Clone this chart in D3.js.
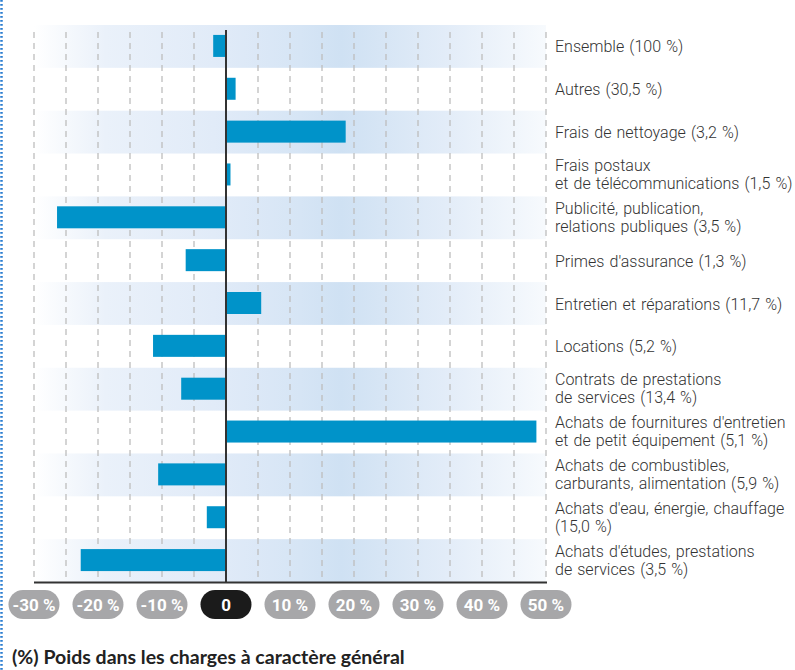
<!DOCTYPE html>
<html>
<head>
<meta charset="utf-8">
<script src="https://cdn.jsdelivr.net/npm/d3@7"></script>
<style>
    body { margin: 0; background: #fff; }
    svg { display: block; }
    .g-label { font-family: Roboto, "Noto Sans", sans-serif; font-weight: 300; font-size: 16px; word-spacing: 1.2px; fill: #333; }
    .g-pill-text { font-family: Roboto, sans-serif; font-weight: 700; font-size: 17px; fill: #fff; }
    .g-title { font-family: Lato, Roboto, sans-serif; font-weight: 700; font-size: 19.5px; fill: #222; }
</style>
</head>
<body>
<div id="chart"></div>
<script>

// rows from top to bottom, label lines as printed
let labels = [
    ["Ensemble (100 %)"],
    ["Autres (30,5 %)"],
    ["Frais de nettoyage (3,2 %)"],
    ["Frais postaux", "et de télécommunications (1,5 %)"],
    ["Publicité, publication,", "relations publiques (3,5 %)"],
    ["Primes d'assurance (1,3 %)"],
    ["Entretien et réparations (11,7 %)"],
    ["Locations (5,2 %)"],
    ["Contrats de prestations", "de services (13,4 %)"],
    ["Achats de fournitures d'entretien", "et de petit équipement (5,1 %)"],
    ["Achats de combustibles,", "carburants, alimentation (5,9 %)"],
    ["Achats d'eau, énergie, chauffage", "(15,0 %)"],
    ["Achats d'études, prestations", "de services (3,5 %)"]
];

// evolution in %
let values = [-2.0, 1.5, 18.7, 0.7, -26.4, -6.3, 5.5, -11.4, -7.0, 48.5, -10.6, -3.0, -22.7];

let ticks = [-30, -20, -10, 0, 10, 20, 30, 40, 50];
let gridTicks = [-30, -25, -20, -15, -10, -5, 5, 10, 15, 20, 25, 30, 35, 40, 45, 50];

let title = "(%) Poids dans les charges à caractère général";

let width = 795, height = 670;

let svg = d3.select("#chart").append("svg")
    .attr("width", width)
    .attr("height", height);

let x = d3.scaleLinear().domain([-30, 50]).range([34, 546]);
let y = d3.scaleBand().domain(d3.range(labels.length)).range([25, 582]);
let bw = y.bandwidth();
let barH = 22;

// band gradient
let defs = svg.append("defs");
let grad = defs.append("linearGradient")
    .attr("id", "g-band")
    .attr("gradientUnits", "userSpaceOnUse")
    .attr("x1", x(-30)).attr("x2", x(50)).attr("y1", 0).attr("y2", 0);
[
    [0, "#ffffff"],
    [0.14, "#eaf1fa"],
    [0.35, "#e1ebf8"],
    [0.52, "#d6e5f5"],
    [0.6, "#cfe1f3"],
    [0.8, "#e2ecf8"],
    [1, "#f7fafd"]
].forEach(function(s){
    grad.append("stop").attr("offset", s[0]).attr("stop-color", s[1]);
});

// left dotted border
svg.append("line")
    .attr("x1", 1.5).attr("x2", 1.5)
    .attr("y1", 0).attr("y2", height)
    .style("stroke", "#2a7cd0")
    .style("stroke-width", 2.5)
    .style("stroke-dasharray", "1.8,2.2");

let g = svg.append("g");

g.selectAll("rect.g-band")
    .data(d3.range(labels.length).filter(d => d % 2 == 0))
    .join("rect")
    .attr("class", "g-band")
    .attr("x", x(-30))
    .attr("width", x(50) - x(-30))
    .attr("y", d => y(d))
    .attr("height", bw)
    .style("fill", "url(#g-band)");

g.selectAll("line.g-grid")
    .data(gridTicks)
    .join("line")
    .attr("class", "g-grid")
    .attr("x1", d => x(d)).attr("x2", d => x(d))
    .attr("y1", 32).attr("y2", y.range()[1])
    .style("stroke", "#bdbdbd")
    .style("stroke-width", 1.3)
    .style("stroke-dasharray", "6,5");

g.selectAll("rect.g-bar")
    .data(values)
    .join("rect")
    .attr("class", "g-bar")
    .attr("x", d => x(Math.min(0, d)))
    .attr("width", d => Math.abs(x(d) - x(0)))
    .attr("y", (d, i) => y(i) + (bw - barH) / 2 - 0.5)
    .attr("height", barH)
    .style("fill", "#0093c9");

// zero line and baseline
g.append("line")
    .attr("x1", x(0)).attr("x2", x(0))
    .attr("y1", 30).attr("y2", y.range()[1])
    .style("stroke", "#333")
    .style("stroke-width", 2);

g.append("line")
    .attr("x1", x(-30)).attr("x2", x(50) + 1)
    .attr("y1", y.range()[1] + 0.5).attr("y2", y.range()[1] + 0.5)
    .style("stroke", "#333")
    .style("stroke-width", 2);

// row labels
let lab = g.selectAll("text.g-label")
    .data(labels)
    .join("text")
    .attr("class", "g-label")
    .attr("x", 555)
    .attr("y", (d, i) => y(i) + bw / 2 + (d.length == 1 ? 6 : -4));

lab.selectAll("tspan")
    .data(d => d)
    .join("tspan")
    .attr("x", 555)
    .attr("dy", (d, i) => i == 0 ? 0 : 18)
    .text(d => d);

// tick pills
let pill = g.selectAll("g.g-pill")
    .data(ticks)
    .join("g")
    .attr("class", "g-pill")
    .attr("transform", d => "translate(" + x(d) + ",604.5)");

pill.append("rect")
    .attr("x", -25.5).attr("y", -14.5)
    .attr("width", 51).attr("height", 29)
    .attr("rx", 14.5)
    .style("fill", d => d == 0 ? "#1b1b1b" : "#a7a7a9");

pill.append("text")
    .attr("class", "g-pill-text")
    .attr("text-anchor", "middle")
    .attr("dy", "0.36em")
    .text(d => d == 0 ? "0" : d + " %");

svg.append("text")
    .attr("class", "g-title")
    .attr("x", 12)
    .attr("y", 664)
    .text(title);

</script>
</body>
</html>
